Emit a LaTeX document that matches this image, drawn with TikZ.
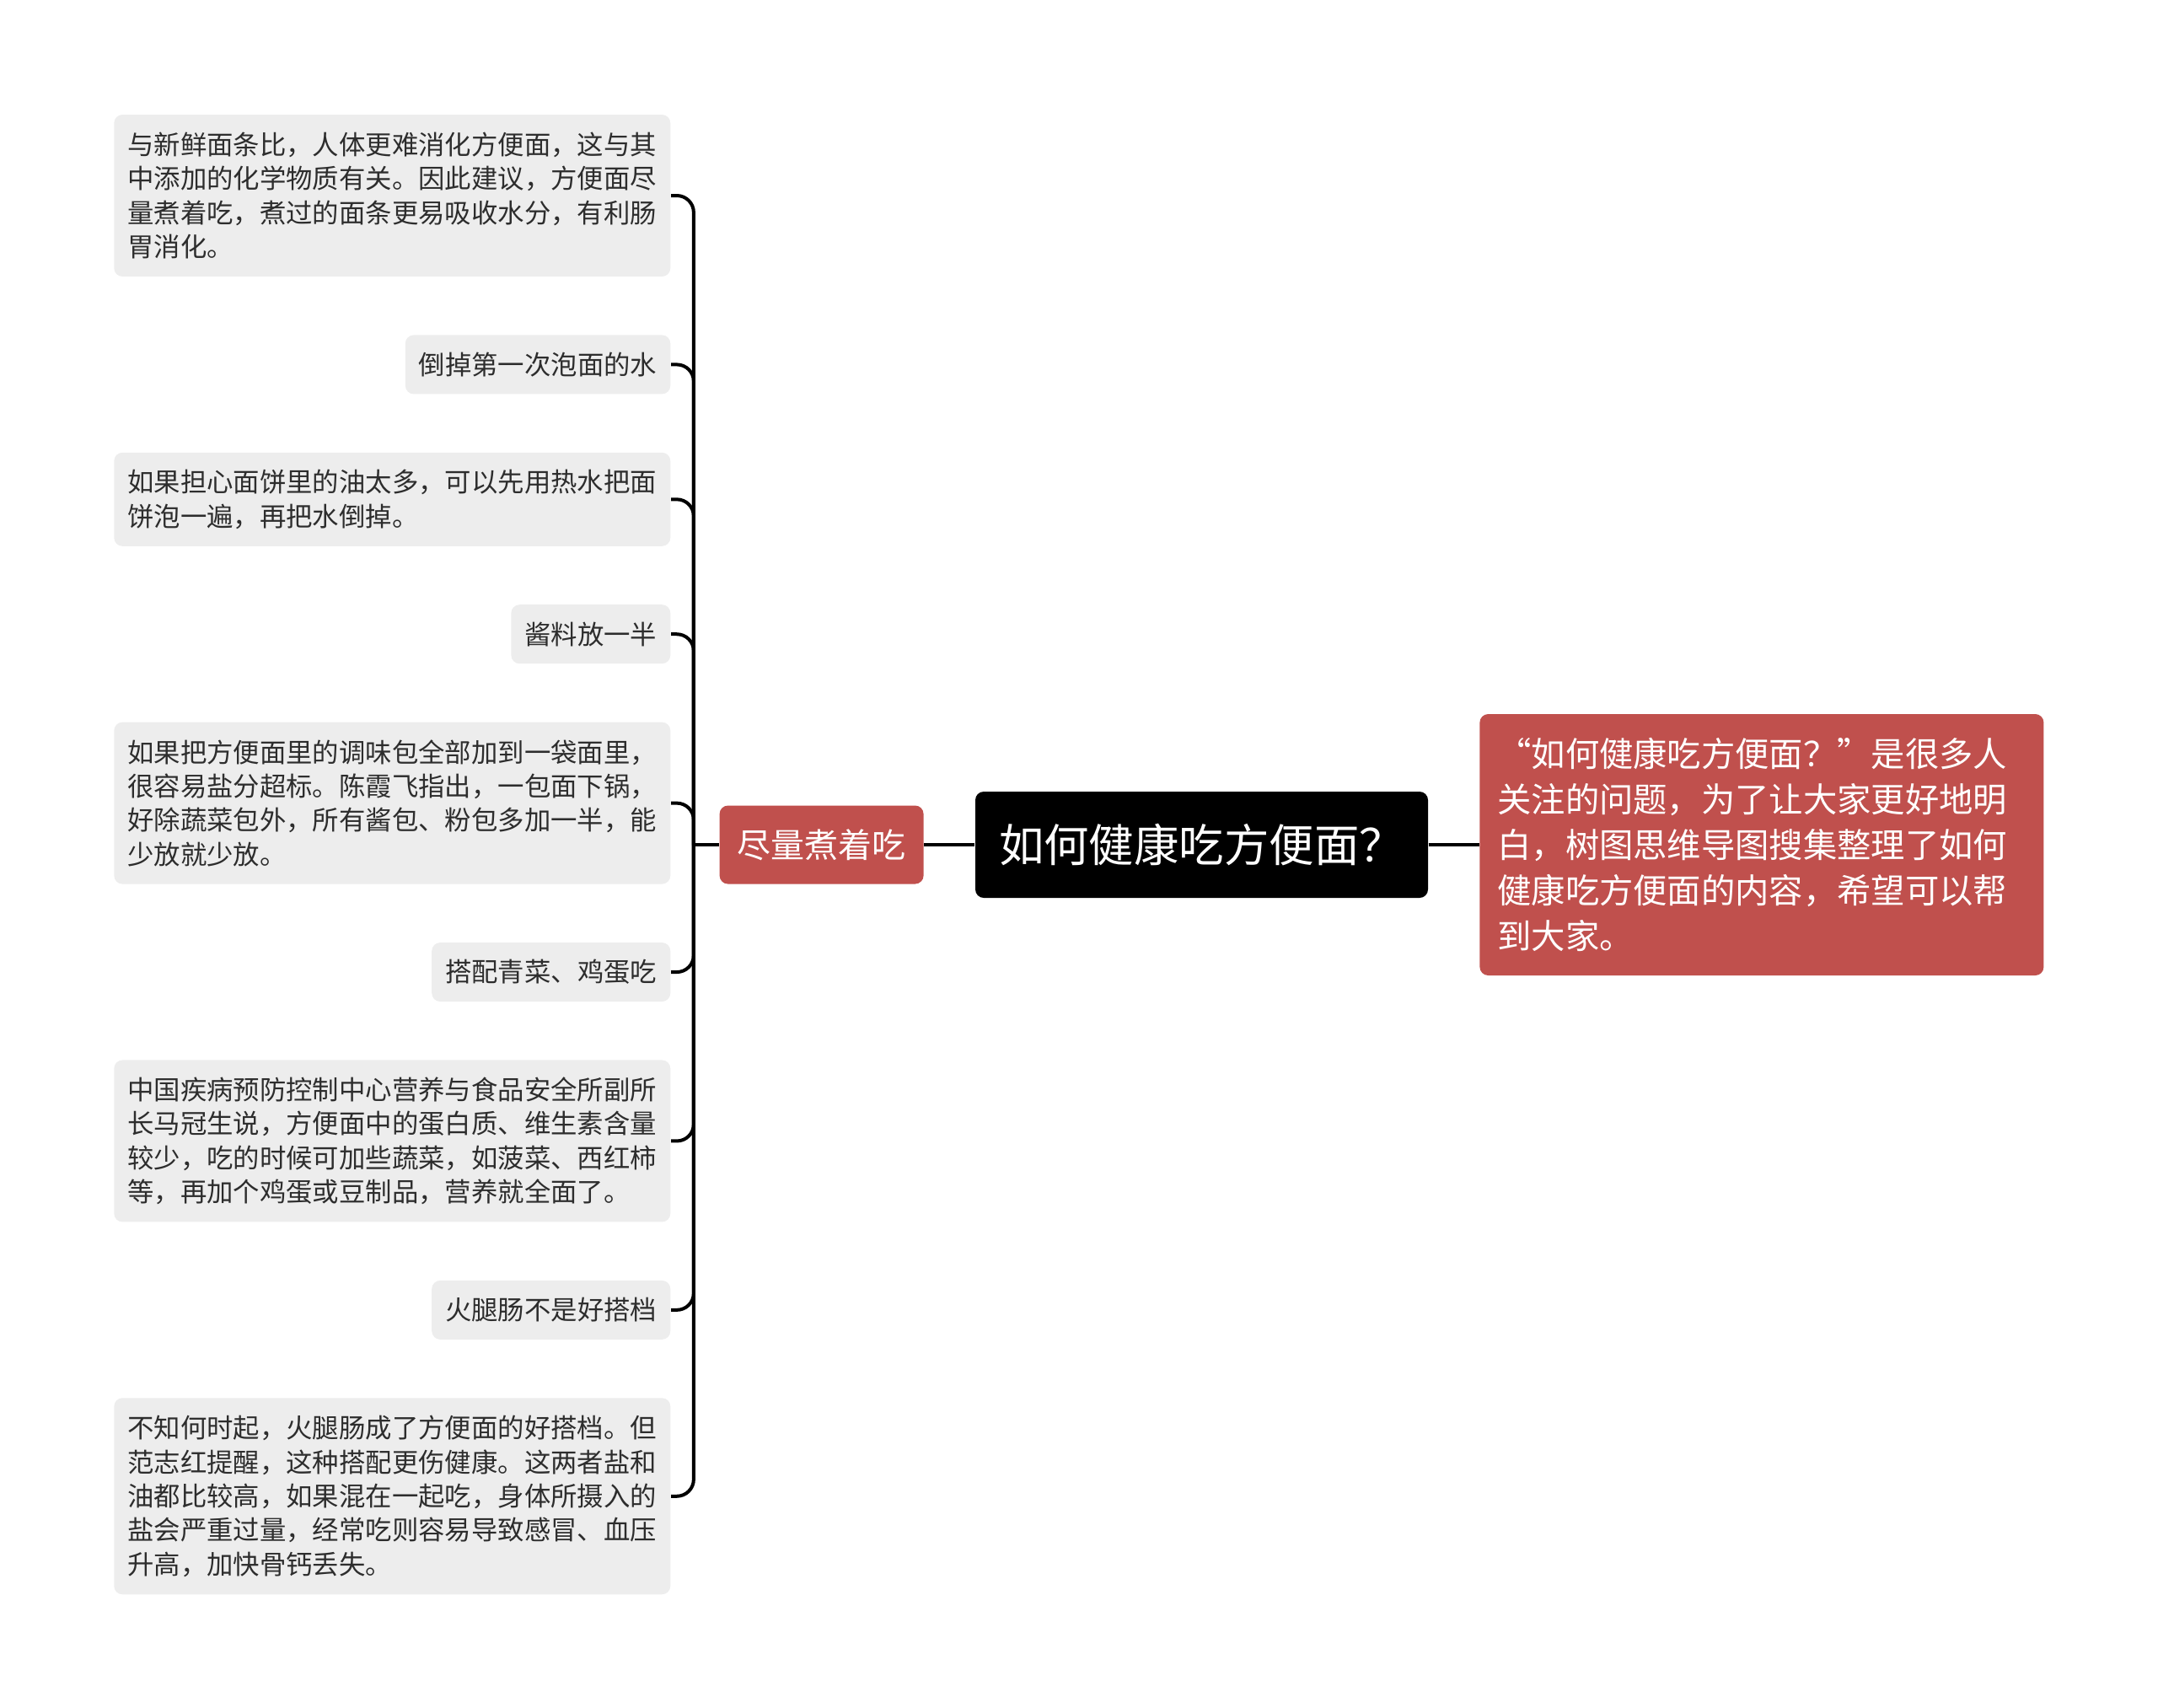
\documentclass[tikz,border=0pt]{standalone}
\usepackage{fontspec}
\setmainfont{Noto Sans CJK SC}
\usepackage{xcolor}
\usepackage{tikz}
\usetikzlibrary{positioning}

\definecolor{leafgray}{RGB}{237,237,237}
\definecolor{leaftext}{RGB}{45,45,45}
\definecolor{notered}{RGB}{192,80,77}

\begin{document}
\begin{tikzpicture}[
		% Defining consistent styles
		leafbox/.style={
				rectangle,
				rounded corners=0.1cm,
				fill=leafgray,
				text=leaftext,
				inner xsep=0.16cm,
				inner ysep=0.08cm,
				text width=6.28cm,
				align=left,
				font=\fontsize{8.93pt}{11.47pt}\selectfont
			},
		tipbox/.style={
				rectangle,
				rounded corners=0.1cm,
				fill=leafgray,
				text=leaftext,
				inner xsep=0.16cm,
				inner ysep=0.08cm,
				minimum height=0.70cm,
				font=\fontsize{8.93pt}{11.47pt}\selectfont
			},
		topicbox/.style={
				rectangle,
				rounded corners=0.1cm,
				fill=notered,
				text=white,
				minimum width=2.42cm,
				minimum height=0.93cm,
				font=\fontsize{11.38pt}{13pt}\selectfont
			},
		rootbox/.style={
				rectangle,
				rounded corners=0.1cm,
				fill=black,
				text=white,
				minimum width=5.37cm,
				minimum height=1.26cm,
				font=\fontsize{15.2pt}{17pt}\selectfont
			},
		notebox/.style={
				rectangle,
				rounded corners=0.1cm,
				fill=notered,
				text=white,
				inner xsep=0.21cm,
				inner ysep=0.1cm,
				text width=6.27cm,
				minimum height=3.10cm,
				align=left,
				font=\fontsize{11.47pt}{15.36pt}\selectfont
			},
		% Defining connector styles
		link/.style={
				line width=0.04cm,
				draw=black
			},
		branch/.style={
				link,
				rounded corners=0.2cm
			},
		node distance=0.68cm and 0cm
		]

		\useasboundingbox (0,0) rectangle (25.6,-20.25);

		% Root and its note
		\node[rootbox] (root) at (14.255,-10.02) {如何健康吃方便面？};

		\node[topicbox, left=0.6cm of root] (boil) {尽量煮着吃};

		\node[notebox, right=0.6cm of root] (intro) {
				“如何健康吃方便面？”是很多人\\
				关注的问题，为了让大家更好地明\\
				白，树图思维导图搜集整理了如何\\
				健康吃方便面的内容，希望可以帮\\
				到大家。
			};

		\coordinate[left=0.3cm of boil.west] (spine);

		% Leaf column
		\node[leafbox, minimum height=1.92cm, anchor=east] (eat) at (7.96,-2.32) {
				与新鲜面条比，人体更难消化方便面，这与其\\
				中添加的化学物质有关。因此建议，方便面尽\\
				量煮着吃，煮过的面条更易吸收水分，有利肠\\
				胃消化。
			};

		\node[tipbox, below left=of eat.south east] (drain) {倒掉第一次泡面的水};

		\node[leafbox, minimum height=1.11cm, below left=of drain.south east] (oil) {
				如果担心面饼里的油太多，可以先用热水把面\\
				饼泡一遍，再把水倒掉。
			};

		\node[tipbox, below left=of oil.south east] (sauce) {酱料放一半};

		\node[leafbox, minimum height=1.92cm, below left=of sauce.south east] (salt) {
				如果把方便面里的调味包全部加到一袋面里，\\
				很容易盐分超标。陈霞飞指出，一包面下锅，\\
				好除蔬菜包外，所有酱包、粉包多加一半，能\\
				少放就少放。
			};

		\node[tipbox, below left=of salt.south east] (veg) {搭配青菜、鸡蛋吃};

		\node[leafbox, minimum height=1.92cm, below left=of veg.south east] (nutri) {
				中国疾病预防控制中心营养与食品安全所副所\\
				长马冠生说，方便面中的蛋白质、维生素含量\\
				较少，吃的时候可加些蔬菜，如菠菜、西红柿\\
				等，再加个鸡蛋或豆制品，营养就全面了。
			};

		\node[tipbox, below left=of nutri.south east] (ham) {火腿肠不是好搭档};

		\node[leafbox, minimum height=2.33cm, below left=of ham.south east] (hamrisk) {
				不知何时起，火腿肠成了方便面的好搭档。但\\
				范志红提醒，这种搭配更伤健康。这两者盐和\\
				油都比较高，如果混在一起吃，身体所摄入的\\
				盐会严重过量，经常吃则容易导致感冒、血压\\
				升高，加快骨钙丢失。
			};

		% Drawing bracket connectors
		\foreach \leaf in {eat, drain, oil, sauce, salt, veg, nutri, ham, hamrisk}
			\draw[branch] (\leaf.east) -| (spine);

		% Drawing main line
		\draw[link] (spine) -- (boil.west);
		\draw[link] (boil.east) -- (root.west);
		\draw[link] (root.east) -- (intro.west);

	\end{tikzpicture}
\end{document}
